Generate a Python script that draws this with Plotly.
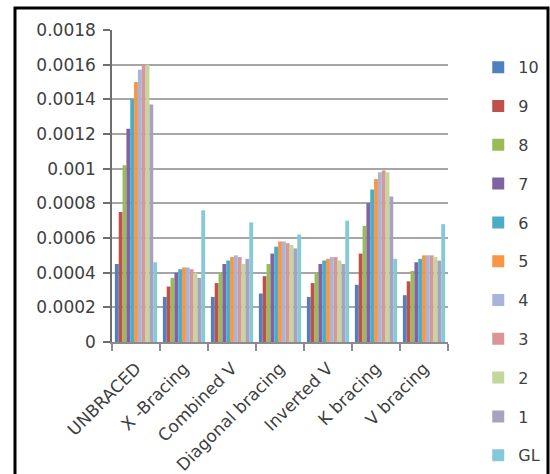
import plotly.graph_objects as go

# Bracing systems compared along the x axis
categories = ["UNBRACED", "X -Bracing", "Combined V", "Diagonal bracing",
              "Inverted V", "K bracing", "V bracing"]

# Storey levels (10 = top storey, GL = ground level)
series_names = ["10", "9", "8", "7", "6", "5", "4", "3", "2", "1", "GL"]

s10 = [0.00045, 0.00026, 0.00026, 0.00028, 0.00026, 0.00033, 0.00027]
s9 = [0.00075, 0.00032, 0.00034, 0.00038, 0.00034, 0.00051, 0.00035]
s8 = [0.00102, 0.00037, 0.00040, 0.00045, 0.00040, 0.00067, 0.00041]
s7 = [0.00123, 0.00040, 0.00045, 0.00051, 0.00045, 0.00080, 0.00046]
s6 = [0.00140, 0.00042, 0.00047, 0.00055, 0.00047, 0.00088, 0.00048]
s5 = [0.00150, 0.00043, 0.00049, 0.00058, 0.00048, 0.00094, 0.00050]
s4 = [0.00157, 0.00043, 0.00050, 0.00058, 0.00049, 0.00098, 0.00050]
s3 = [0.00160, 0.00042, 0.00049, 0.00057, 0.00049, 0.00099, 0.00050]
s2 = [0.00160, 0.00040, 0.00045, 0.00056, 0.00047, 0.00098, 0.00049]
s1 = [0.00137, 0.00037, 0.00048, 0.00054, 0.00045, 0.00084, 0.00047]
sGL = [0.00046, 0.00076, 0.00069, 0.00062, 0.00070, 0.00048, 0.00068]

series_values = [s10, s9, s8, s7, s6, s5, s4, s3, s2, s1, sGL]

colors = ["#4F81BD", "#C0504D", "#9BBB59", "#8064A2", "#4BACC6", "#F79646",
          "#A7B5DB", "#D99694", "#C3D69B", "#A9A2BF", "#86C7DA"]

y_ticks = [0, 0.0002, 0.0004, 0.0006, 0.0008, 0.001, 0.0012, 0.0014, 0.0016, 0.0018]
y_tick_text = ["0", "0.0002", "0.0004", "0.0006", "0.0008", "0.001",
               "0.0012", "0.0014", "0.0016", "0.0018"]

FONT = "DejaVu Sans"
TXT = "#404040"

fig = go.Figure()
for name, vals, col in zip(series_names, series_values, colors):
    fig.add_trace(go.Bar(
        x=categories, y=vals, name=name, legendgroup=name,
        marker=dict(color=col, line=dict(width=0)),
    ))

fig.update_layout(
    width=550, height=474,
    margin=dict(l=112, r=102, t=30, b=132, autoexpand=False),
    paper_bgcolor="white", plot_bgcolor="white",
    barmode="group", bargap=0.12, bargroupgap=0,
    font=dict(family=FONT, size=16, color=TXT),
    showlegend=True,
    legend=dict(
        x=1.09, xanchor="left", y=0.935, yanchor="top",
        font=dict(family=FONT, size=16, color=TXT),
        tracegroupgap=15, bgcolor="rgba(0,0,0,0)",
        itemwidth=30, maxheight=474,
    ),
    shapes=[
        # outer frame around the chart
        dict(type="rect", xref="paper", yref="paper",
             x0=-0.2887, x1=1.2976, y0=-0.47, y1=1.0705,
             line=dict(color="black", width=3), layer="below"),
    ],
)

fig.update_xaxes(
    type="category", tickangle=-45,
    showline=True, linecolor="#8c8c8c", linewidth=1.5,
    ticks="outside", tickson="boundaries", ticklen=7,
    tickcolor="#8c8c8c", tickwidth=1.5,
    showgrid=False, ticklabelstandoff=8,
    tickfont=dict(family=FONT, size=17, color=TXT),
)
fig.update_yaxes(
    range=[0, 0.0018], tickvals=y_ticks, ticktext=y_tick_text,
    showline=True, linecolor="#6e6e6e", linewidth=1.5,
    ticks="outside", ticklen=7, tickcolor="#6e6e6e", tickwidth=1.5,
    showgrid=True, gridcolor="#a6a6a6", gridwidth=2,
    zeroline=False, ticklabelstandoff=4,
    tickfont=dict(family=FONT, size=17, color=TXT),
)

fig.write_html("out.html")
